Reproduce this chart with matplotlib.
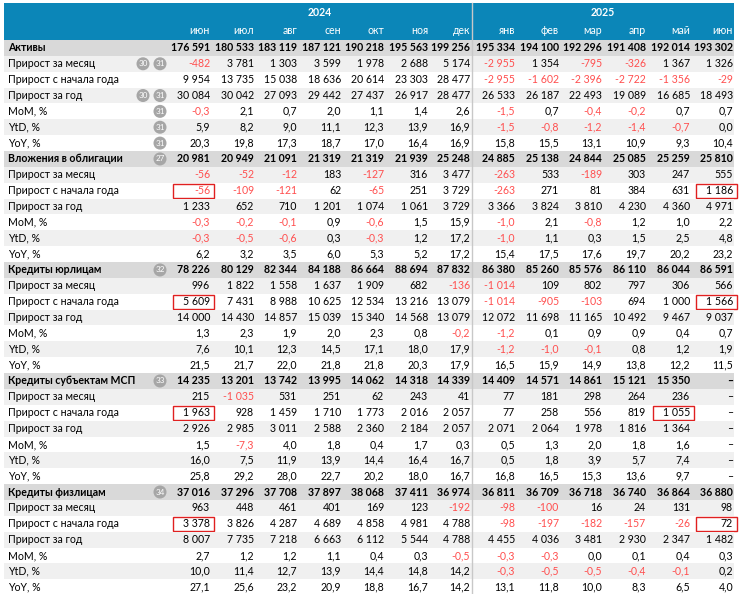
import matplotlib
matplotlib.use("Agg")
import matplotlib.pyplot as plt
from matplotlib.patches import Rectangle, Circle

months = ["июн", "июл", "авг", "сен", "окт", "ноя", "дек",
          "янв", "фев", "мар", "апр", "май", "июн"]
years = ["2024", "2025"]
row_labels = ["Прирост за месяц", "Прирост с начала года", "Прирост за год",
              "MoM, %", "YtD, %", "YoY, %"]
N = None

sec_names = ["Активы", "Вложения в облигации", "Кредиты юрлицам",
             "Кредиты субъектам МСП", "Кредиты физлицам"]
sec_badges = [None, "27", "32", "33", "34"]

aktivy = [176591, 180533, 183119, 187121, 190218, 195563, 199256, 195334, 194100, 192296, 191408, 192014, 193302]
aktivy_rows = [
    [-482, 3781, 1303, 3599, 1978, 2688, 5174, -2955, 1354, -795, -326, 1367, 1326],
    [9954, 13735, 15038, 18636, 20614, 23303, 28477, -2955, -1602, -2396, -2722, -1356, -29],
    [30084, 30042, 27093, 29442, 27437, 26917, 28477, 26533, 26187, 22493, 19089, 16685, 18493],
    [-0.3, 2.1, 0.7, 2.0, 1.1, 1.4, 2.6, -1.5, 0.7, -0.4, -0.2, 0.7, 0.7],
    [5.9, 8.2, 9.0, 11.1, 12.3, 13.9, 16.9, -1.5, -0.8, -1.2, -1.4, -0.7, 0.0],
    [20.3, 19.8, 17.3, 18.7, 17.0, 16.4, 16.9, 15.8, 15.5, 13.1, 10.9, 9.3, 10.4],
]
obl = [20981, 20949, 21091, 21319, 21319, 21939, 25248, 24885, 25138, 24844, 25085, 25259, 25810]
obl_rows = [
    [-56, -52, -12, 183, -127, 316, 3477, -263, 533, -189, 303, 247, 555],
    [-56, -109, -121, 62, -65, 251, 3729, -263, 271, 81, 384, 631, 1186],
    [1233, 652, 710, 1201, 1074, 1061, 3729, 3366, 3824, 3810, 4230, 4360, 4971],
    [-0.3, -0.2, -0.1, 0.9, -0.6, 1.5, 15.9, -1.0, 2.1, -0.8, 1.2, 1.0, 2.2],
    [-0.3, -0.5, -0.6, 0.3, -0.3, 1.2, 17.2, -1.0, 1.1, 0.3, 1.5, 2.5, 4.8],
    [6.2, 3.2, 3.5, 6.0, 5.3, 5.2, 17.2, 15.4, 17.5, 17.6, 19.7, 20.2, 23.2],
]
ul = [78226, 80129, 82344, 84188, 86664, 88694, 87832, 86380, 85260, 85576, 86110, 86044, 86591]
ul_rows = [
    [996, 1822, 1558, 1637, 1909, 682, -136, -1014, 109, 802, 797, 306, 566],
    [5609, 7431, 8988, 10625, 12534, 13216, 13079, -1014, -905, -103, 694, 1000, 1566],
    [14000, 14430, 14857, 15039, 15340, 14568, 13079, 12072, 11698, 11165, 10492, 9467, 9037],
    [1.3, 2.3, 1.9, 2.0, 2.3, 0.8, -0.2, -1.2, 0.1, 0.9, 0.9, 0.4, 0.7],
    [7.6, 10.1, 12.3, 14.5, 17.1, 18.0, 17.9, -1.2, -1.0, -0.1, 0.8, 1.2, 1.9],
    [21.5, 21.7, 22.0, 21.8, 21.8, 20.3, 17.9, 16.5, 15.9, 14.9, 13.8, 12.2, 11.5],
]
msp = [14235, 13201, 13742, 13995, 14062, 14318, 14339, 14409, 14571, 14861, 15121, 15350, N]
msp_rows = [
    [215, -1035, 531, 251, 62, 243, 41, 77, 181, 298, 264, 236, N],
    [1963, 928, 1459, 1710, 1773, 2016, 2057, 77, 258, 556, 819, 1055, N],
    [2926, 2985, 3011, 2588, 2360, 2184, 2057, 2071, 2064, 1978, 1816, 1364, N],
    [1.5, -7.3, 4.0, 1.8, 0.4, 1.7, 0.3, 0.5, 1.3, 2.0, 1.8, 1.6, N],
    [16.0, 7.5, 11.9, 13.9, 14.4, 16.4, 16.7, 0.5, 1.8, 3.9, 5.7, 7.4, N],
    [25.8, 29.2, 28.0, 22.7, 20.2, 18.0, 16.7, 16.8, 16.5, 15.3, 13.6, 9.7, N],
]
fl = [37016, 37296, 37708, 37897, 38068, 37411, 36974, 36811, 36709, 36718, 36740, 36864, 36880]
fl_rows = [
    [963, 448, 461, 401, 169, 123, -192, -98, -100, 16, 24, 131, 98],
    [3378, 3826, 4287, 4689, 4858, 4981, 4788, -98, -197, -182, -157, -26, 72],
    [8007, 7735, 7218, 6663, 6112, 5544, 4788, 4455, 4036, 3481, 2930, 2347, 1482],
    [2.7, 1.2, 1.2, 1.1, 0.4, 0.3, -0.5, -0.3, -0.3, 0.0, 0.1, 0.4, 0.3],
    [10.0, 11.4, 12.7, 13.9, 14.4, 14.8, 14.2, -0.3, -0.5, -0.5, -0.4, -0.1, 0.2],
    [27.1, 25.6, 23.2, 20.9, 18.8, 16.7, 14.2, 13.1, 11.8, 10.0, 8.3, 6.5, 4.0],
]
sections = [(aktivy, aktivy_rows), (obl, obl_rows), (ul, ul_rows), (msp, msp_rows), (fl, fl_rows)]
aktivy_row_badges = [["30", "31"], [], ["30", "31"], ["31"], ["31"], ["31"]]
# highlighted cells: (section, row, column)
boxed = [(1, 1, 0), (1, 1, 12), (2, 1, 0), (2, 1, 12), (3, 1, 0), (3, 1, 11), (4, 1, 0), (4, 1, 12)]

FONT = "Lato"
FS = 7.6
BLUE = "#0b86b8"
RED = "#ff4f4f"

def fmt(v, pct):
    if v is None:
        return "–"
    if pct:
        s = f"{abs(v):.1f}".replace(".", ",")
    else:
        s = f"{abs(int(v)):,}".replace(",", " ")
    return ("-" if v < 0 else "") + s

fig = plt.figure(figsize=(7.51, 5.94), dpi=100)
ax = fig.add_axes([0, 0, 1, 1])
ax.set_xlim(0, 751)
ax.set_ylim(594, 0)
ax.axis("off")

col_r = [210, 254, 297, 341, 384, 428, 470, 515, 559, 602, 646, 690, 733]
x0, x1 = 4, 734
ax.add_patch(Rectangle((x0, 3), x1 - x0, 37, color=BLUE, lw=0))
ax.text(320, 13, years[0], color="white", ha="center", va="center",
        fontsize=FS, family=FONT, fontweight="bold")
ax.text(603, 13, years[1], color="white", ha="center", va="center",
        fontsize=FS, family=FONT, fontweight="bold")
for j, m in enumerate(months):
    ax.text(col_r[j], 31, m, color="white", ha="right", va="center", fontsize=FS, family=FONT)

rh = 15.86
y_top = 40.0
r = 0
for si, (main, rows) in enumerate(sections):
    yc = y_top + r * rh + rh / 2
    ax.add_patch(Rectangle((x0, y_top + r * rh), x1 - x0, rh, color="#d9d9d9", lw=0))
    ax.text(8, yc, sec_names[si], ha="left", va="center", fontsize=FS, family=FONT, fontweight="bold")
    if sec_badges[si]:
        ax.add_patch(Circle((160, yc), 6.5, color="#a6a6a6", lw=0))
        ax.text(160, yc, sec_badges[si], ha="center", va="center", fontsize=5.8, color="white", family=FONT)
    for j, v in enumerate(main):
        ax.text(col_r[j], yc, fmt(v, False), ha="right", va="center", fontsize=FS, family=FONT,
                fontweight="bold", color=RED if (v is not None and v < 0) else "black")
    r += 1
    for k, vals in enumerate(rows):
        yc = y_top + r * rh + rh / 2
        if k % 2 == 0:
            ax.add_patch(Rectangle((x0, y_top + r * rh), x1 - x0, rh, color="#f0f0f0", lw=0))
        ax.text(8, yc, row_labels[k], ha="left", va="center", fontsize=FS, family=FONT)
        if si == 0:
            bl = aktivy_row_badges[k]
            xs = [143, 160][-len(bl):] if bl else []
            for b, xb in zip(bl, xs):
                ax.add_patch(Circle((xb, yc), 6.5, color="#a6a6a6", lw=0))
                ax.text(xb, yc, b, ha="center", va="center", fontsize=5.8, color="white", family=FONT)
        for j, v in enumerate(vals):
            ax.text(col_r[j], yc, fmt(v, k >= 3), ha="right", va="center", fontsize=FS, family=FONT,
                    color=RED if (v is not None and v < 0) else "black")
            if (si, k, j) in boxed:
                ax.add_patch(Rectangle((col_r[j] - 37, y_top + r * rh + 0.8), 41, rh - 1.6,
                                       fill=False, ec="#e02020", lw=1))
        r += 1

ax.plot([472, 472], [3, y_top + r * rh], color="#c8c8c8", lw=1)

fig.savefig("out.png", dpi=100)
